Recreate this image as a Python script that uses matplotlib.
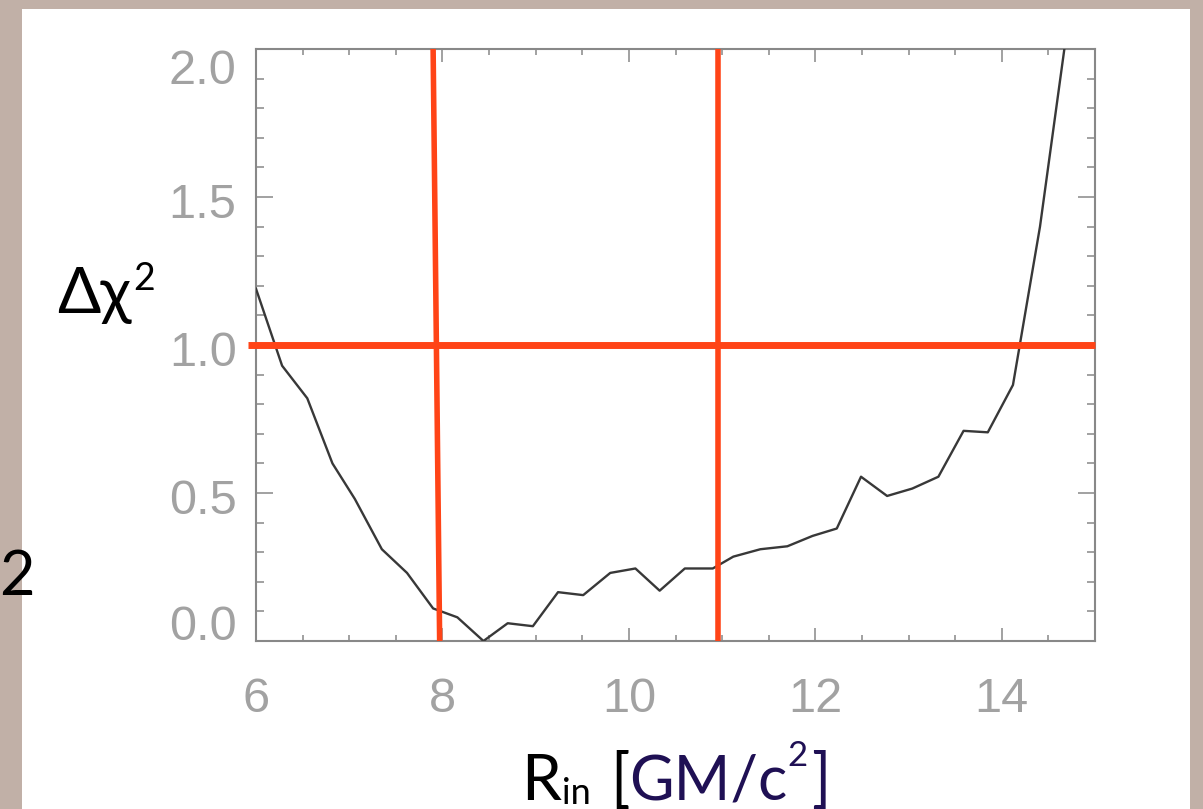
import matplotlib
matplotlib.use("Agg")
import matplotlib.pyplot as plt
from matplotlib.patches import Rectangle
from matplotlib.ticker import MultipleLocator
from matplotlib.transforms import ScaledTranslation

# ---------------- data ----------------
r_in = [6.00, 6.28, 6.55, 6.82, 7.06, 7.35, 7.62, 7.90, 8.16, 8.44, 8.70,
        8.97, 9.24, 9.51, 9.80, 10.07, 10.33, 10.60, 10.90, 11.12, 11.41,
        11.70, 11.97, 12.23, 12.49, 12.77, 13.04, 13.32, 13.59, 13.85,
        14.12, 14.41, 14.68]
delta_chi2 = [1.19, 0.93, 0.82, 0.60, 0.48, 0.31, 0.23, 0.11, 0.08, 0.00,
              0.06, 0.05, 0.165, 0.155, 0.23, 0.245, 0.17, 0.245, 0.245,
              0.285, 0.31, 0.32, 0.355, 0.38, 0.555, 0.49, 0.515, 0.555,
              0.71, 0.705, 0.865, 1.40, 2.02]

hline_level = 1.0
hline_x = [5.91, 15.0]
vline_left_x = [7.97, 7.90]     # bottom, top
vline_right_x = [10.96, 10.96]
vline_y = [0.0, 2.0]

x_ticks = [6, 8, 10, 12, 14]
y_ticks = [0.0, 0.5, 1.0, 1.5, 2.0]
y_ticklabels = ["0.0", "0.5", "1.0", "1.5", "2.0"]

# ---------------- figure ----------------
W, H = 1203, 809
DPI = 100
BEIGE = "#c1b0a7"
RED = "#ff4417"
NAVY = "#1f1054"
GRAY = "#a2a2a2"

fig = plt.figure(figsize=(W / DPI, H / DPI), dpi=DPI, facecolor=BEIGE)
fig.patches.append(Rectangle((22 / W, 0), (1190 - 22) / W, (H - 9) / H,
                             transform=fig.transFigure, facecolor="white",
                             edgecolor="none", zorder=-10))

ax = fig.add_axes([256 / W, 1 - 641 / H, (1095 - 256) / W, (641 - 49) / H])
ax.set_facecolor("none")

ax.plot(r_in, delta_chi2, color="#383838", lw=1.7, zorder=3)
ax.plot(hline_x, [hline_level, hline_level], color=RED, lw=5.0,
        clip_on=False, zorder=4, solid_capstyle="butt")
ax.plot(vline_left_x, vline_y, color=RED, lw=4.0, clip_on=False, zorder=4,
        solid_capstyle="butt")
ax.plot(vline_right_x, vline_y, color=RED, lw=4.0, clip_on=False, zorder=4,
        solid_capstyle="butt")

ax.set_xlim(6, 15)
ax.set_ylim(0, 2.0)

for s in ax.spines.values():
    s.set_color("#888888")
    s.set_linewidth(1.5)

ax.set_xticks(x_ticks)
ax.xaxis.set_minor_locator(MultipleLocator(0.5))
ax.set_yticks(y_ticks)
ax.set_yticklabels(y_ticklabels)
ax.yaxis.set_minor_locator(MultipleLocator(0.1))

tick_family = ["Liberation Sans", "DejaVu Sans"]
ax.tick_params(axis="x", which="major", direction="in", length=9.4,
               width=1.1, color="#888888", top=True, bottom=True,
               labelcolor=GRAY, pad=26)
ax.tick_params(axis="x", which="minor", direction="in", length=4.3,
               width=1.1, color="#888888", top=True, bottom=True)
ax.tick_params(axis="y", which="major", direction="in", length=12.2,
               width=1.1, color="#888888", left=True, right=True,
               labelcolor=GRAY, pad=14)
ax.tick_params(axis="y", which="minor", direction="in", length=6.1,
               width=1.1, color="#888888", left=True, right=True)
for lab in ax.get_xticklabels() + ax.get_yticklabels():
    lab.set_fontfamily(tick_family)
    lab.set_fontsize(35)

# IDL-style: end labels pulled inside the axis range
y_label_shift_px = {"0.0": 19, "0.5": -3, "1.0": -3, "1.5": -3, "2.0": -18}
for lab, txt in zip(ax.get_yticklabels(), y_ticklabels):
    dy = y_label_shift_px[txt] / DPI
    lab.set_transform(lab.get_transform() +
                      ScaledTranslation(0, dy, fig.dpi_scale_trans))

# ---------------- texts ----------------
SANS = ["Lato", "Open Sans", "Noto Sans", "DejaVu Sans"]


def ftext(x_px, y_px, s, **kw):
    return fig.text(x_px / W, 1 - y_px / H, s, ha="left", va="baseline",
                    family=SANS, zorder=5, **kw)


fig.canvas.draw()
renderer = fig.canvas.get_renderer()


def chain(x_start, pieces):
    x_cur = x_start
    for s, fs, col, base, gap in pieces:
        x_cur += gap
        t = ftext(x_cur, base, s, fontsize=fs, color=col)
        bb = t.get_window_extent(renderer)
        x_cur += bb.width


# y label
chain(57, [("Δχ", 46, "black", 313, 0),
           ("2", 27, "black", 290, 2)])

# stray slide text at left edge
ftext(-1, 595, "2", fontsize=44, color="black")

# x label
chain(521, [
    ("R", 46, "black", 800, 0),
    ("in", 26, "black", 804, 1),
    ("[", 46, "black", 800, 20),
    ("GM/c", 44, NAVY, 800, -1),
    ("2", 25, NAVY, 766, 0),
    ("]", 46, NAVY, 800, 3),
])

fig.savefig("out.png", dpi=DPI, facecolor=BEIGE)
